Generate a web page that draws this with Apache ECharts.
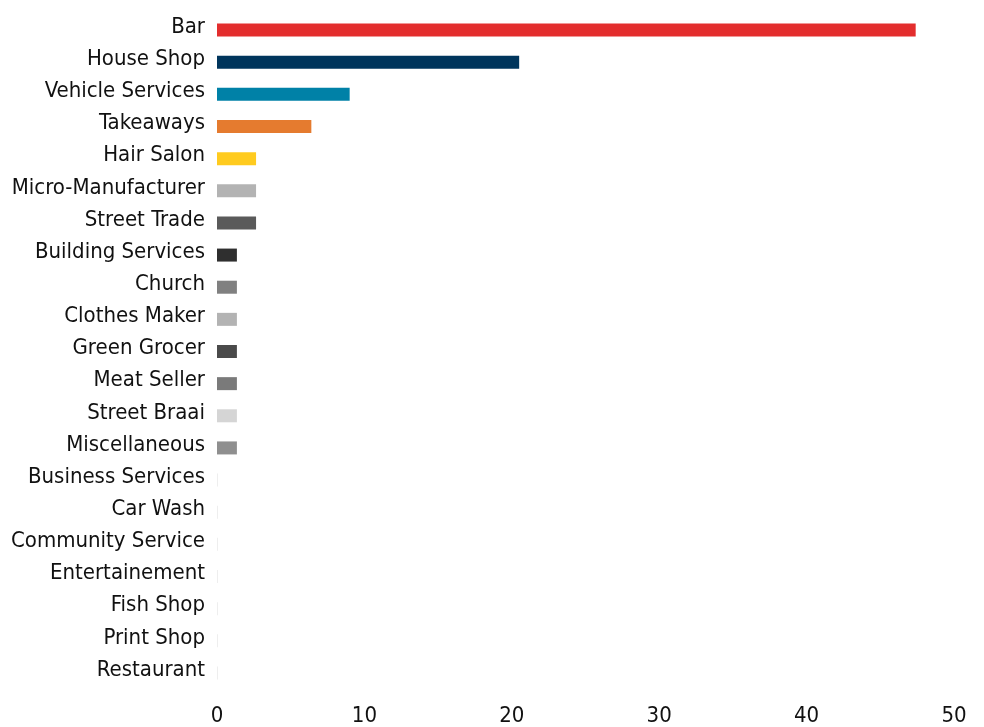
<!DOCTYPE html>
<html><head><meta charset="utf-8">
<script src="https://cdn.jsdelivr.net/npm/echarts@6/dist/echarts.min.js"></script>
<style>html,body{margin:0;padding:0;background:#fff}#c{width:984px;height:727px}</style>
</head><body><div id="c"></div>
<script>
const categories = ["Bar","House Shop","Vehicle Services","Takeaways","Hair Salon","Micro-Manufacturer","Street Trade","Building Services","Church","Clothes Maker","Green Grocer","Meat Seller","Street Braai","Miscellaneous","Business Services","Car Wash","Community Service","Entertainement","Fish Shop","Print Shop","Restaurant"];
const values = [47.4,20.5,9.0,6.4,2.65,2.65,2.65,1.35,1.35,1.35,1.35,1.35,1.35,1.35,0,0,0,0,0,0,0];
const colors = ["#e32d2d","#00355c","#0081a7","#e57b2f","#ffcb1f","#b3b3b3","#5a5a5a","#2f2f2f","#808080","#b3b3b3","#4a4a4a","#7a7a7a","#d5d5d5","#8f8f8f","#eeeeee","#eeeeee","#eeeeee","#eeeeee","#eeeeee","#eeeeee","#eeeeee"];
const xTicks = [0,10,20,30,40,50];
const font = "'Liberation Sans Narrow','DejaVu Sans Condensed',sans-serif";
const chart = echarts.init(document.getElementById('c'), null, {renderer:'canvas'});
chart.setOption({
  animation:false,
  grid:{left:217,right:30,top:14,bottom:34,containLabel:false},
  xAxis:{type:'value',min:xTicks[0],max:xTicks[xTicks.length-1],interval:10,
    axisLine:{show:false},axisTick:{show:false},splitLine:{show:false},
    axisLabel:{margin:16,color:'#111',fontSize:22,fontFamily:font}},
  yAxis:{type:'category',data:categories,inverse:true,
    axisLine:{show:false},axisTick:{show:false},
    axisLabel:{margin:12,color:'#111',fontSize:22,fontFamily:font,verticalAlign:'bottom',lineHeight:6}},
  series:[{type:'bar',barWidth:13,barMinHeight:1,
    data:values.map((v,i)=>({value:v,itemStyle:{color:colors[i]}}))}]
});
</script></body></html>
